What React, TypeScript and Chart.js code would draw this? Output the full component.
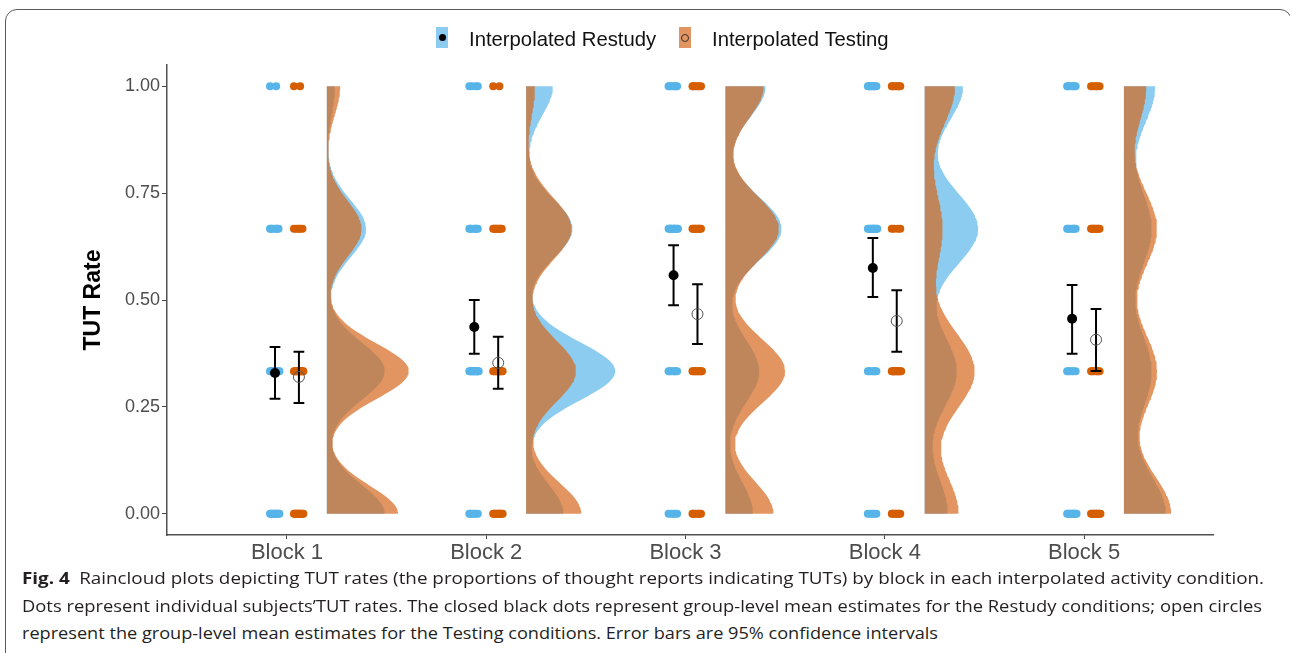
import React, { useEffect, useLayoutEffect, useRef } from "react";
import { Chart, registerables } from "chart.js";

Chart.register(...registerables);

// ---------------- data ----------------
const BLOCKS = ["Block 1", "Block 2", "Block 3", "Block 4", "Block 5"];
const LEVELS = [0, 1 / 3, 2 / 3, 1]; // possible TUT rates per subject
const Y_TICKS = [0, 0.25, 0.5, 0.75, 1];

// number of subjects at each TUT level (0, 1/3, 2/3, 1), per block
const RESTUDY_COUNTS = [
  [11, 10, 7, 2],
  [6, 13, 7, 4],
  [5, 7, 11, 7],
  [5, 7, 10, 8],
  [10, 6, 7, 7],
];
const TESTING_COUNTS = [
  [11, 12, 5, 2],
  [10, 10, 8, 2],
  [7, 9, 8, 6],
  [8, 11, 4, 7],
  [10, 7, 8, 5],
];

// group-level mean estimates with 95% CI
const RESTUDY_MEAN = [0.329, 0.437, 0.558, 0.575, 0.456];
const RESTUDY_LO = [0.269, 0.374, 0.488, 0.507, 0.374];
const RESTUDY_HI = [0.39, 0.5, 0.628, 0.645, 0.535];
const TESTING_MEAN = [0.32, 0.353, 0.467, 0.451, 0.407];
const TESTING_LO = [0.259, 0.292, 0.397, 0.379, 0.334];
const TESTING_HI = [0.379, 0.414, 0.537, 0.523, 0.479];

// relative density of the cloud at each TUT level (max = 1)
const RESTUDY_DENSITY = [
  [0.65, 0.65, 0.44, 0.09],
  [0.42, 1.0, 0.52, 0.3],
  [0.31, 0.38, 0.63, 0.45],
  [0.26, 0.36, 0.6, 0.43],
  [0.47, 0.31, 0.31, 0.35],
];
const TESTING_DENSITY = [
  [0.8, 0.92, 0.39, 0.15],
  [0.62, 0.56, 0.51, 0.1],
  [0.54, 0.67, 0.6, 0.43],
  [0.38, 0.56, 0.2, 0.34],
  [0.53, 0.37, 0.37, 0.25],
];
// kernel bandwidths of the clouds
const RESTUDY_BW = [0.067, 0.068, 0.074, 0.085, 0.094];
const TESTING_BW = [0.065, 0.072, 0.076, 0.093, 0.093];

// ---------------- style / layout constants ----------------
const X_MIN = 0.398;
const X_MAX = 5.647;
const RESTUDY_OFFSET = -0.06;
const TESTING_OFFSET = 0.06;
const CLOUD_OFFSET = 0.2;
const CLOUD_SCALE = 0.447;
const DOT_JITTER = 0.05;
const CAP = 0.027;

const BLUE = "#56B4E9";
const ORANGE = "#D55E00";
const BLUE_FILL = "rgba(86,180,233,0.68)";
const ORANGE_FILL = "rgba(214,104,28,0.7)";

const CANVAS_W = 1290;
const CANVAS_H = 570;
const PLOT_LEFT = 167;
const PLOT_RIGHT = 1213;
const PLOT_TOP = 65;
const PLOT_BOTTOM = 535;
const PAD_LEFT = 80;

// ---------------- helpers ----------------
function cloudPoints(blockIdx: number, dens: number[], bw: number) {
  const base = blockIdx + 1 + CLOUD_OFFSET;
  const pts: { x: number; y: number }[] = [{ x: base, y: 0 }];
  const N = 240;
  for (let i = 0; i <= N; i++) {
    const y = i / N;
    let d = 0;
    for (let j = 0; j < LEVELS.length; j++) {
      const z = (y - LEVELS[j]) / bw;
      d += dens[j] * Math.exp(-0.5 * z * z);
    }
    pts.push({ x: base + d * CLOUD_SCALE, y });
  }
  pts.push({ x: base, y: 1 });
  return pts;
}

function dotPoints(counts: number[][], offset: number) {
  const pts: { x: number; y: number }[] = [];
  counts.forEach((lv, b) => {
    lv.forEach((n, j) => {
      for (let k = 0; k < n; k++) {
        const jit = (((k * 0.618034) % 1) - 0.5) * DOT_JITTER;
        pts.push({ x: b + 1 + offset + jit, y: LEVELS[j] });
      }
    });
  });
  return pts;
}

function errorBarPoints() {
  const pts: { x: number; y: number | null }[] = [];
  const add = (x: number, lo: number, hi: number) => {
    pts.push({ x, y: lo }, { x, y: hi }, { x, y: null });
    pts.push({ x: x - CAP, y: hi }, { x: x + CAP, y: hi }, { x, y: null });
    pts.push({ x: x - CAP, y: lo }, { x: x + CAP, y: lo }, { x, y: null });
  };
  BLOCKS.forEach((_, i) => {
    add(i + 1 + RESTUDY_OFFSET, RESTUDY_LO[i], RESTUDY_HI[i]);
    add(i + 1 + TESTING_OFFSET, TESTING_LO[i], TESTING_HI[i]);
  });
  return pts;
}

const CAPTION_LINES = [
  {
    bold: "Fig. 4",
    text:
      "\u2002Raincloud plots depicting TUT rates (the proportions of thought reports indicating TUTs) by block in each interpolated activity condition.",
    width: 1242,
  },
  {
    bold: "",
    text:
      "Dots represent individual subjects\u2019TUT rates. The closed black dots represent group-level mean estimates for the Restudy conditions; open circles",
    width: 1240,
  },
  {
    bold: "",
    text:
      "represent the group-level mean estimates for the Testing conditions. Error bars are 95% confidence intervals",
    width: 916,
  },
];

export default function App() {
  const canvasRef = useRef<HTMLCanvasElement | null>(null);
  const lineRefs = useRef<(HTMLSpanElement | null)[]>([]);

  useLayoutEffect(() => {
    const fit = () => {
      lineRefs.current.forEach((el, i) => {
        if (!el) return;
        el.style.transform = "none";
        const w = el.getBoundingClientRect().width;
        if (w > 0) el.style.transform = `scaleX(${CAPTION_LINES[i].width / w})`;
      });
    };
    fit();
    if ((document as any).fonts && (document as any).fonts.ready) {
      (document as any).fonts.ready.then(fit);
    }
  }, []);

  useEffect(() => {
    const canvas = canvasRef.current;
    if (!canvas) return;

    const datasets: any[] = [];
    // means (top-most)
    datasets.push({
      label: "Testing mean",
      data: TESTING_MEAN.map((m, i) => ({ x: i + 1 + TESTING_OFFSET, y: m })),
      showLine: false,
      pointRadius: 5.5,
      pointBackgroundColor: "rgba(0,0,0,0)",
      pointBorderColor: "#555",
      pointBorderWidth: 1,
      order: 0,
    });
    datasets.push({
      label: "Restudy mean",
      data: RESTUDY_MEAN.map((m, i) => ({ x: i + 1 + RESTUDY_OFFSET, y: m })),
      showLine: false,
      pointRadius: 5,
      pointBackgroundColor: "#000",
      pointBorderColor: "#000",
      pointBorderWidth: 0,
      order: 1,
    });
    datasets.push({
      label: "CI",
      data: errorBarPoints(),
      showLine: true,
      spanGaps: false,
      borderColor: "#000",
      borderWidth: 2,
      pointRadius: 0,
      tension: 0,
      fill: false,
      order: 2,
    });
    datasets.push({
      label: "Testing dots",
      data: dotPoints(TESTING_COUNTS, TESTING_OFFSET),
      showLine: false,
      pointRadius: 4,
      pointBackgroundColor: ORANGE,
      pointBorderWidth: 0,
      order: 3,
    });
    datasets.push({
      label: "Restudy dots",
      data: dotPoints(RESTUDY_COUNTS, RESTUDY_OFFSET),
      showLine: false,
      pointRadius: 4,
      pointBackgroundColor: BLUE,
      pointBorderWidth: 0,
      order: 4,
    });
    BLOCKS.forEach((_, i) => {
      datasets.push({
        label: "Testing cloud " + i,
        data: cloudPoints(i, TESTING_DENSITY[i], TESTING_BW[i]),
        showLine: true,
        borderWidth: 0,
        pointRadius: 0,
        tension: 0,
        backgroundColor: ORANGE_FILL,
        fill: "shape",
        order: 5,
      });
    });
    BLOCKS.forEach((_, i) => {
      datasets.push({
        label: "Restudy cloud " + i,
        data: cloudPoints(i, RESTUDY_DENSITY[i], RESTUDY_BW[i]),
        showLine: true,
        borderWidth: 0,
        pointRadius: 0,
        tension: 0,
        backgroundColor: BLUE_FILL,
        fill: "shape",
        order: 6,
      });
    });

    const chart = new Chart(canvas, {
      type: "line",
      data: { datasets },
      options: {
        responsive: false,
        animation: false,
        events: [],
        devicePixelRatio: 1,
        layout: {
          padding: {
            left: PAD_LEFT,
            right: CANVAS_W - PLOT_RIGHT,
            top: PLOT_TOP,
            bottom: 0,
          },
        },
        plugins: {
          legend: { display: false },
          tooltip: { enabled: false },
          title: { display: false },
        },
        scales: {
          x: {
            type: "linear",
            min: X_MIN,
            max: X_MAX,
            afterBuildTicks: (s: any) => {
              s.ticks = BLOCKS.map((_, i) => ({ value: i + 1 }));
            },
            afterFit: (s: any) => {
              s.height = CANVAS_H - PLOT_BOTTOM;
            },
            ticks: {
              autoSkip: false,
              maxRotation: 0,
              padding: 1,
              color: "#4D4D4D",
              font: { family: "'Liberation Sans', Arial, sans-serif", size: 22 },
              callback: (_v: any, idx: number) => BLOCKS[idx],
            },
            grid: {
              drawOnChartArea: false,
              drawTicks: true,
              tickLength: 4,
              color: "#444",
              lineWidth: 1,
            },
            border: { display: true, color: "#505050", width: 1.5 },
          },
          y: {
            type: "linear",
            min: -0.05,
            max: 1.05,
            afterBuildTicks: (s: any) => {
              s.ticks = Y_TICKS.map((v) => ({ value: v }));
            },
            afterFit: (s: any) => {
              s.width = PLOT_LEFT - PAD_LEFT;
            },
            ticks: {
              padding: 2,
              color: "#4D4D4D",
              font: { family: "'Liberation Sans', Arial, sans-serif", size: 18 },
              callback: (v: any) => Number(v).toFixed(2),
            },
            grid: {
              drawOnChartArea: false,
              drawTicks: true,
              tickLength: 5,
              color: "#444",
              lineWidth: 1,
            },
            border: { display: true, color: "#505050", width: 1.5 },
            title: {
              display: true,
              text: "TUT Rate",
              color: "#000",
              padding: 0,
              font: {
                family: "'Liberation Sans', Arial, sans-serif",
                size: 23,
                weight: "bold",
              },
            },
          },
        },
      } as any,
    });
    return () => chart.destroy();
  }, []);

  const legendFont = "'Liberation Sans', Arial, sans-serif";

  return (
    <div
      style={{
        position: "absolute",
        left: 0,
        top: 0,
        width: 1290,
        height: 653,
        overflow: "hidden",
        background: "#fff",
      }}
    >
      <div
        style={{
          position: "absolute",
          left: 5,
          top: 9,
          width: 1287,
          height: 720,
          boxSizing: "border-box",
          border: "1.5px solid #5a5a5a",
          borderRadius: 12,
        }}
      />
      <canvas
        ref={canvasRef}
        width={CANVAS_W}
        height={CANVAS_H}
        style={{ position: "absolute", left: 0, top: 0, width: CANVAS_W, height: CANVAS_H }}
      />
      {/* legend */}
      <div
        style={{
          position: "absolute",
          left: 436,
          top: 27,
          width: 12,
          height: 21,
          background: BLUE_FILL,
        }}
      >
        <div
          style={{
            position: "absolute",
            left: 2.5,
            top: 7,
            width: 7,
            height: 7,
            borderRadius: "50%",
            background: "#000",
          }}
        />
      </div>
      <div
        style={{
          position: "absolute",
          left: 469,
          top: 27,
          lineHeight: "24px",
          fontSize: 20.3,
          fontFamily: legendFont,
          color: "#111",
          whiteSpace: "nowrap",
        }}
      >
        Interpolated Restudy
      </div>
      <div
        style={{
          position: "absolute",
          left: 679,
          top: 27,
          width: 12,
          height: 21,
          background: ORANGE_FILL,
        }}
      >
        <div
          style={{
            position: "absolute",
            left: 2,
            top: 6.5,
            width: 8,
            height: 8,
            boxSizing: "border-box",
            borderRadius: "50%",
            border: "1px solid #333",
          }}
        />
      </div>
      <div
        style={{
          position: "absolute",
          left: 712,
          top: 27,
          lineHeight: "24px",
          fontSize: 20.3,
          fontFamily: legendFont,
          color: "#111",
          whiteSpace: "nowrap",
        }}
      >
        Interpolated Testing
      </div>
      {/* caption */}
      {CAPTION_LINES.map((ln, i) => (
        <div
          key={i}
          style={{
            position: "absolute",
            left: 22,
            top: 567 + i * 27.5,
            height: 22,
            lineHeight: "22px",
            whiteSpace: "nowrap",
          }}
        >
          <span
            ref={(el) => {
              lineRefs.current[i] = el;
            }}
            style={{
              display: "inline-block",
              transformOrigin: "0 0",
              fontFamily: "'Open Sans', 'Noto Sans', sans-serif",
              fontSize: 16.3,
              color: "#231F20",
            }}
          >
            {ln.bold ? <b style={{ fontWeight: 700 }}>{ln.bold}</b> : null}
            {ln.text}
          </span>
        </div>
      ))}
    </div>
  );
}
